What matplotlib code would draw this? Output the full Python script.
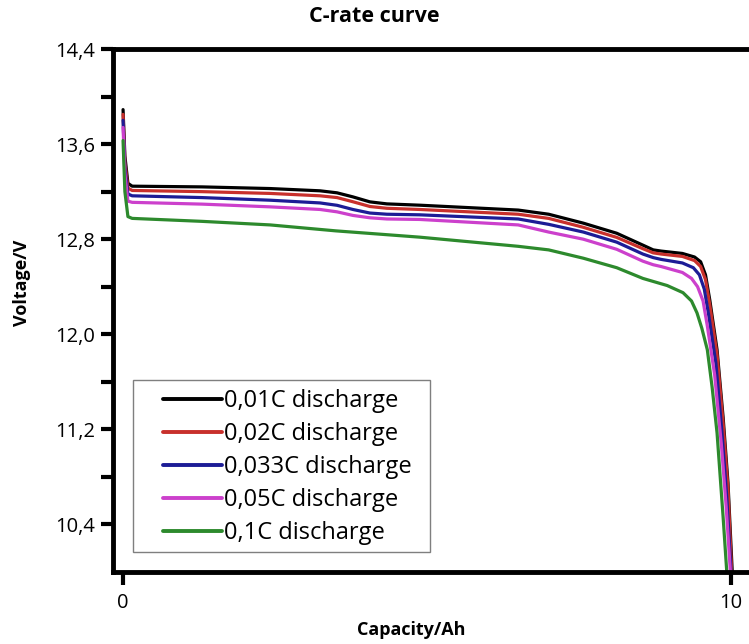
import numpy as np
import matplotlib
matplotlib.use("Agg")
from matplotlib import pyplot as plt
from matplotlib.patches import Rectangle
from matplotlib.ticker import FuncFormatter

# capacity (Ah) / voltage (V)
cap_001 = [0, 0.03, 0.08, 0.15, 1.3, 2.42, 3.24, 3.52, 3.78, 4.06, 4.34, 4.88, 6.5, 7.0,
           7.57, 8.12, 8.55, 8.72, 8.85, 9.2, 9.4, 9.5, 9.58, 9.65, 9.77, 9.87, 9.95, 10.02]
volt_001 = [13.89, 13.5, 13.27, 13.246, 13.24, 13.226, 13.207, 13.19, 13.156, 13.114, 13.097,
            13.086, 13.045, 13.01, 12.935, 12.85, 12.75, 12.71, 12.70, 12.68, 12.65, 12.61,
            12.50, 12.29, 11.87, 11.30, 10.75, 10.0]

cap_002 = [0, 0.03, 0.08, 0.15, 1.3, 2.42, 3.24, 3.52, 3.78, 4.06, 4.34, 4.88, 6.5, 7.0,
           7.57, 8.12, 8.55, 8.72, 8.85, 9.2, 9.4, 9.5, 9.58, 9.65, 9.77, 9.87, 9.95, 10.01]
volt_002 = [13.85, 13.45, 13.23, 13.21, 13.20, 13.185, 13.165, 13.15, 13.115, 13.075, 13.06,
            13.05, 13.01, 12.975, 12.90, 12.815, 12.72, 12.685, 12.675, 12.655, 12.62, 12.57,
            12.46, 12.25, 11.83, 11.25, 10.70, 10.0]

cap_0033 = [0, 0.03, 0.08, 0.15, 1.3, 2.42, 3.24, 3.52, 3.78, 4.06, 4.34, 4.88, 6.5, 7.0,
            7.57, 8.12, 8.55, 8.72, 8.85, 9.2, 9.38, 9.48, 9.56, 9.63, 9.75, 9.85, 9.93, 10.0]
volt_0033 = [13.8, 13.4, 13.18, 13.165, 13.15, 13.128, 13.105, 13.085, 13.05, 13.02, 13.01,
             13.005, 12.97, 12.925, 12.86, 12.775, 12.675, 12.645, 12.63, 12.60, 12.56, 12.50,
             12.38, 12.17, 11.76, 11.18, 10.63, 10.0]

cap_005 = [0, 0.03, 0.08, 0.15, 1.3, 2.42, 3.24, 3.52, 3.78, 4.06, 4.34, 4.88, 6.5, 7.0,
           7.57, 8.12, 8.55, 8.72, 8.85, 9.2, 9.35, 9.45, 9.54, 9.61, 9.73, 9.84, 9.92, 9.99]
volt_005 = [13.74, 13.35, 13.12, 13.11, 13.095, 13.072, 13.05, 13.03, 13.0, 12.98, 12.97,
            12.966, 12.92, 12.86, 12.80, 12.715, 12.615, 12.585, 12.57, 12.52, 12.47, 12.40,
            12.28, 12.07, 11.66, 11.08, 10.55, 10.0]

cap_01 = [0, 0.03, 0.08, 0.15, 1.3, 2.42, 3.5, 4.88, 6.5, 7.0, 7.57, 8.12, 8.55, 8.95, 9.21,
          9.35, 9.44, 9.52, 9.61, 9.69, 9.77, 9.87, 9.93]
volt_01 = [13.63, 13.2, 12.99, 12.975, 12.95, 12.92, 12.87, 12.817, 12.74, 12.71, 12.64, 12.56,
           12.47, 12.41, 12.35, 12.28, 12.18, 12.05, 11.87, 11.55, 11.17, 10.46, 10.0]

labels = ["0,01C discharge", "0,02C discharge", "0,033C discharge", "0,05C discharge", "0,1C discharge"]
colors = ["#000000", "#c8302c", "#1c1c96", "#cc40cc", "#2d8a2d"]
caps = [cap_001, cap_002, cap_0033, cap_005, cap_01]
volts = [volt_001, volt_002, volt_0033, volt_005, volt_01]

y_major = [10.4, 11.2, 12.0, 12.8, 13.6, 14.4]
y_minor = [10.8, 11.6, 12.4, 13.2, 14.0]
x_ticks = [0, 10]

plt.rcParams['font.family'] = ['Open Sans', 'DejaVu Sans']

fig = plt.figure(figsize=(7.49, 6.44), dpi=100)
ax = fig.add_axes([0.1509, 0.1118, 0.8657, 0.8121])

for c, v, col, lab in zip(caps, volts, colors, labels):
    ax.plot(c, v, color=col, lw=2.3, label=lab, solid_capstyle='round', solid_joinstyle='round')

ax.set_xlim(-0.165, 10.5)
ax.set_ylim(10.0, 14.4)
ax.set_yticks(y_major)
ax.set_yticks(y_minor, minor=True)
ax.set_xticks(x_ticks)
ax.yaxis.set_major_formatter(FuncFormatter(lambda v, p: f"{v:.1f}".replace(".", ",")))
ax.xaxis.set_major_formatter(FuncFormatter(lambda v, p: f"{v:g}"))
ax.tick_params(axis='both', which='both', direction='out', length=9, width=3,
               labelsize=14.5, pad=4)
ax.tick_params(axis='x', pad=6)

for s in ['left', 'top', 'bottom']:
    ax.spines[s].set_linewidth(3.5)
ax.spines['right'].set_visible(False)

# legend box drawn separately (the original has a wide left margin)
def to_ax(px, py):
    return ((px - 113) / 749 / 0.8657, ((644 - py) / 644 - 0.1118) / 0.8121)

x0, y0 = to_ax(133, 552)
x1, y1 = to_ax(430, 380)
ax.add_patch(Rectangle((x0, y0), x1 - x0, y1 - y0, transform=ax.transAxes, fill=False,
                       edgecolor='#7f7f7f', lw=1.0, zorder=5))
leg = ax.legend(loc='upper left', bbox_to_anchor=to_ax(163, 389),
                frameon=False, fontsize=17, handlelength=2.5, handletextpad=0.1,
                labelspacing=0.38, borderpad=0, borderaxespad=0)
for line in leg.get_lines():
    line.set_linewidth(2.8)

fig.text(374 / 749, 1 - 17 / 644, "C-rate curve", ha='center', va='center',
         fontsize=15.5, fontweight='bold')
fig.text(411 / 749, 1 - 630 / 644, "Capacity/Ah", ha='center', va='center',
         fontsize=13, fontweight='bold')
fig.text(22 / 749, 1 - 283 / 644, "Voltage/V", ha='center', va='center', rotation=90,
         fontsize=13, fontweight='bold')

fig.savefig("out.png", dpi=100)
